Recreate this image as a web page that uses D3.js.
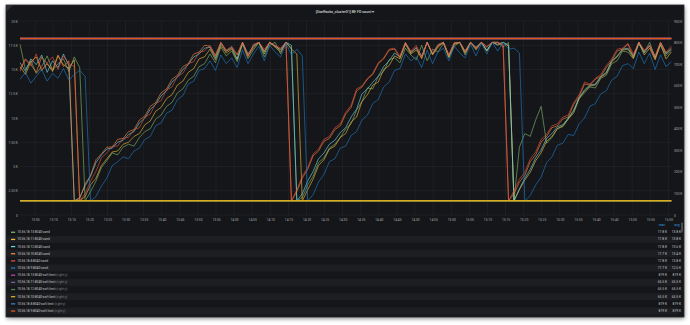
<!DOCTYPE html>
<html lang="en">
<head>
<meta charset="utf-8">
<title>BE FD count</title>
<script src="https://cdn.jsdelivr.net/npm/d3@7"></script>
<style>
html, body { margin: 0; padding: 0; background: #ffffff; }
body { font-family: Roboto, "Noto Sans", sans-serif; }
#vis svg { display: block; }
</style>
</head>
<body>
<div id="vis"></div>
<script>

/* Data */
/* ==== */

// one sample every 1.5 minutes, first one at 13:00:50
var startTime = new Date(2023, 0, 1, 13, 0, 50),
    stepMinutes = 1.5;

var usedNames = ['10.56.18.13:8040-used', '10.56.18.11:8040-used', '10.56.18.12:8040-used',
                 '10.56.18.10:8040-used', '10.56.18.8:8040-used', '10.56.18.9:8040-used'];

// values in thousands of fds (left axis)
var used13 = [17.6, 15.0, 15.9, 14.6, 15.3, 16.4, 14.9, 15.6, 16.1, 14.8, 16.3, 15.2, 1.45,
  2.4, 3.5, 4.9, 5.6, 6.4, 6.2, 7.0, 7.3, 7.1, 8.0, 8.6, 8.9, 9.9, 10.3, 11.2, 11.6, 12.6, 13.0, 13.9, 14.3, 15.3, 15.6, 16.6,
  15.7, 17.3, 16.4, 16.9, 15.8, 17.6, 16.1, 17.0, 17.8, 16.3, 17.5, 17.8, 16.6, 17.8, 17.2, 1.45,
  1.8, 3.1, 4.0, 5.4, 5.9, 6.9, 7.3, 8.0, 8.9, 9.4, 10.8, 11.7, 13.1, 13.0, 14.3, 14.8, 16.0, 16.2,
  15.7, 17.2, 16.5, 16.0, 17.5, 15.9, 17.1, 16.8, 17.7, 16.2, 17.4, 17.8, 16.5, 17.8, 17.0, 17.8, 16.9, 17.8, 17.8, 17.3, 17.8, 1.45,
  7.0, 8.4, 8.1, 9.8, 11.2, 7.4,
  8.0, 8.9, 9.1, 9.9, 10.5, 12.0, 12.6, 13.2, 13.1, 14.1, 14.4, 15.6, 15.9, 16.9, 16.8,
  16.1, 17.6, 16.8, 17.8, 16.2, 17.5, 16.4, 17.0];

var used11 = [15.3, 14.5, 15.8, 16.3, 14.9, 15.6, 14.8, 16.4, 15.5, 15.1, 16.0, 1.45,
  1.9, 3.1, 3.8, 5.1, 5.8, 6.5, 6.6, 7.3, 7.5, 8.1, 8.4, 9.3, 9.7, 10.7, 11.1, 12.0, 12.4, 13.4, 13.8, 14.7, 15.1, 16.1, 16.3, 17.1,
  16.0, 17.5, 16.7, 17.1, 16.0, 17.8, 16.4, 17.2, 17.8, 16.6, 17.8, 17.3, 16.8, 17.8, 17.1, 16.6, 1.45,
  2.6, 3.7, 5.1, 5.7, 6.8, 7.1, 8.0, 8.4, 9.6, 10.1, 11.7, 12.4, 13.4, 13.7, 15.0, 15.4, 16.4,
  16.1, 17.6, 16.6, 17.0, 16.2, 17.8, 16.5, 17.3, 17.8, 16.3, 17.6, 17.8, 16.7, 17.8, 17.2, 17.8, 16.9, 17.8, 17.5, 17.8, 17.4, 1.45,
  2.6, 3.6, 4.4, 5.6, 6.4, 7.6, 8.1, 8.9, 9.2, 9.9, 10.7, 12.0, 12.8, 13.3, 13.4, 14.2, 14.6, 15.8, 16.3, 17.0, 17.1,
  16.2, 17.8, 16.5, 17.2, 16.0, 17.6, 16.1, 16.8];

var used12 = [15.7, 14.8, 16.1, 15.5, 16.5, 14.7, 15.9, 15.2, 16.6, 15.4, 1.45,
  1.8, 3.0, 4.0, 5.4, 6.2, 6.8, 6.9, 7.5, 7.7, 8.3, 8.6, 9.5, 10.0, 10.9, 11.4, 12.3, 12.8, 13.7, 14.2, 15.0, 15.5, 16.3, 16.6, 17.2, 17.3,
  16.2, 17.7, 16.9, 17.3, 16.1, 17.8, 16.6, 17.4, 17.8, 16.8, 17.8, 17.4, 17.0, 17.8, 17.5, 1.45,
  2.2, 3.5, 4.5, 5.8, 6.4, 7.3, 7.7, 8.5, 9.0, 10.1, 10.9, 12.5, 13.0, 13.7, 14.3, 15.3, 15.9, 16.7,
  16.3, 17.7, 16.8, 17.2, 16.4, 17.8, 16.6, 17.5, 17.8, 16.5, 17.7, 17.8, 16.9, 17.8, 17.3, 17.8, 17.0, 17.8, 17.6, 17.8, 17.5, 1.45,
  2.7, 3.8, 4.7, 5.9, 6.7, 7.9, 8.4, 9.1, 9.3, 10.0, 10.8, 12.1, 12.9, 13.4, 13.5, 14.3, 14.7, 15.9, 16.4, 17.1, 17.2,
  16.4, 17.8, 16.7, 17.5, 16.3, 17.8, 16.6, 17.1];

var used10 = [15.0, 16.1, 15.5, 14.7, 16.3, 15.6, 15.0, 16.5, 15.3, 15.9, 1.45,
  1.7, 3.2, 4.1, 5.7, 6.3, 7.0, 7.0, 7.8, 7.9, 8.6, 8.8, 9.8, 10.2, 11.2, 11.6, 12.6, 13.0, 14.0, 14.4, 15.3, 15.6, 16.6, 16.8, 17.5, 17.4,
  16.4, 17.8, 16.9, 17.2, 16.5, 17.8, 16.3, 17.5, 17.8, 16.9, 17.8, 17.4, 17.1, 17.8, 1.45,
  2.4, 3.8, 4.7, 6.1, 6.6, 7.6, 7.9, 8.8, 9.2, 10.4, 11.1, 12.8, 13.2, 14.0, 14.5, 15.6, 16.1, 17.0, 17.1,
  16.2, 17.8, 16.7, 17.3, 16.1, 17.8, 16.6, 17.4, 17.8, 16.4, 17.7, 17.8, 16.8, 17.8, 17.1, 17.8, 17.3, 17.8, 17.8, 17.5, 1.45,
  2.2, 3.4, 4.1, 5.5, 6.2, 7.5, 8.1, 9.0, 9.2, 9.9, 10.1, 11.4, 12.2, 13.5, 13.4, 14.0, 14.3, 15.2, 15.9, 16.9, 17.1, 17.6,
  16.3, 17.8, 16.9, 17.4, 16.1, 17.8, 16.7, 17.2];

var used8 = [14.8, 16.0, 15.4, 16.6, 14.9, 15.7, 16.3, 15.0, 16.4, 15.6, 15.3, 1.45,
  2.2, 3.5, 4.5, 5.9, 6.4, 7.1, 7.1, 7.9, 8.0, 8.8, 9.0, 10.1, 10.4, 11.5, 11.8, 12.9, 13.2, 14.3, 14.6, 15.6, 15.8, 16.8, 16.9, 17.5,
  16.5, 17.8, 17.0, 17.4, 16.6, 17.8, 16.4, 17.6, 17.8, 17.1, 17.8, 17.5, 17.2, 17.8, 1.45,
  2.6, 4.0, 4.9, 6.3, 6.8, 7.8, 8.1, 9.0, 9.4, 10.6, 11.3, 13.0, 13.3, 14.1, 14.6, 15.7, 16.2, 17.1, 17.2,
  16.4, 17.8, 16.9, 17.5, 16.3, 17.8, 16.7, 17.6, 17.8, 16.5, 17.8, 17.8, 16.9, 17.8, 17.2, 17.8, 17.4, 17.8, 17.8, 17.6, 1.45,
  2.5, 3.7, 4.4, 5.8, 6.5, 7.8, 8.3, 9.2, 9.4, 10.1, 10.3, 11.6, 12.4, 13.7, 13.5, 14.1, 14.5, 15.4, 16.1, 17.1, 17.2, 17.7,
  16.6, 17.8, 17.0, 17.5, 16.4, 17.8, 16.8, 17.4];

var used9 = [14.0, 14.7, 13.6, 14.3, 15.0, 13.8, 14.6, 14.1, 15.1, 13.9, 14.5, 14.9, 14.3, 1.45,
  1.9, 3.0, 3.8, 5.1, 5.5, 6.0, 5.8, 6.6, 6.9, 7.8, 8.1, 9.2, 9.5, 10.5, 10.8, 11.9, 12.3, 13.5, 13.8, 14.9, 15.1, 15.9,
  14.9, 16.5, 15.6, 16.2, 15.2, 17.0, 15.6, 16.6, 17.4, 15.9, 17.5, 16.8, 16.3, 17.7, 16.5, 17.1, 16.4, 1.45,
  2.1, 3.4, 4.2, 5.5, 5.8, 6.9, 7.1, 8.2, 8.6, 9.8, 10.3, 11.5, 11.9, 13.2, 13.7, 14.9,
  15.1, 16.6, 15.9, 16.3, 15.2, 17.0, 15.6, 16.8, 17.2, 15.9, 17.4, 16.7, 16.2, 17.6, 16.4, 17.7, 16.6, 17.8, 16.9, 17.8, 17.1, 17.2, 16.7, 1.45,
  2.0, 3.1, 3.9, 5.4, 6.0, 7.2, 7.4, 8.3, 8.2, 9.4, 10.0, 11.2, 11.5, 12.5, 12.8, 13.9, 14.3, 15.4, 15.6,
  15.1, 16.8, 15.6, 16.7, 15.0, 16.5, 15.3, 15.8];

var usedMax = ['17.8 K', '17.8 K', '17.8 K', '17.7 K', '17.8 K', '17.7 K'];
var usedAvg = ['13.8 K', '13.8 K', '13.6 K', '13.4 K', '13.8 K', '12.6 K'];

var softNames = ['10.56.18.13:8040-soft limit', '10.56.18.11:8040-soft limit', '10.56.18.12:8040-soft limit',
                 '10.56.18.10:8040-soft limit', '10.56.18.8:8040-soft limit', '10.56.18.9:8040-soft limit'];
var softValues = [819200, 65536, 65536, 65536, 819200, 819200];   // right axis
var softMax = ['819 K', '65.5 K', '65.5 K', '65.5 K', '819 K', '819 K'];
var softAvg = ['819 K', '65.5 K', '65.5 K', '65.5 K', '819 K', '819 K'];

var leftTicks = [0, 2500, 5000, 7500, 10000, 12500, 15000, 17500, 20000];
var leftTickLabels = ['0', '2.50 K', '5 K', '7.50 K', '10 K', '12.5 K', '15 K', '17.5 K', '20 K'];
var rightTicks = [0, 100000, 200000, 300000, 400000, 500000, 600000, 700000, 800000, 900000];
var rightTickLabels = ['0', '100 K', '200 K', '300 K', '400 K', '500 K', '600 K', '700 K', '800 K', '900 K'];

var palette = ['#7EB26D', '#EAB839', '#6ED0E0', '#EF843C', '#E24D42', '#1F78C1',
               '#BA43A9', '#705DA0', '#508642', '#D9AC1E', '#447EBC', '#E0561C'];


/* Globals and SVG */
/* =============== */

var W = 690, H = 325;
var panel = { x: 6, y: 5, w: 678, h: 312 };
var plot = { left: 20, right: 671.4, top: 21, bottom: 215 };

var svg = d3.select('#vis')
  .append('svg')
    .attr('width', W)
    .attr('height', H);

var endTime = new Date(+startTime + 180 * 60000);

var x = d3.scaleTime().domain([startTime, endTime]).range([plot.left, plot.right]);
var yLeft = d3.scaleLinear().domain([0, 20000]).range([plot.bottom, plot.top]);
var yRight = d3.scaleLinear().domain([0, 900000]).range([plot.bottom, plot.top]);


/* Functions */
/* ========= */

function drawPanel() {

  var defs = svg.append('defs');
  defs.append('filter').attr('id', 'blur')
      .attr('x', '-5%').attr('y', '-10%').attr('width', '110%').attr('height', '125%')
    .append('feGaussianBlur').attr('stdDeviation', 2.2);

  svg.append('rect')
    .attr('x', panel.x + 0.5).attr('y', panel.y + 1.5)
    .attr('width', panel.w).attr('height', panel.h)
    .attr('fill', '#000').attr('opacity', 0.5)
    .attr('filter', 'url(#blur)');

  svg.append('rect')
    .attr('x', panel.x).attr('y', panel.y)
    .attr('width', panel.w).attr('height', panel.h)
    .attr('fill', '#141619')
    .attr('stroke', '#2a2c31')
    .attr('stroke-width', 0.8);

  // info corner
  svg.append('path')
    .attr('d', 'M' + panel.x + ',' + panel.y + 'h7l-7,7z')
    .attr('fill', '#2b2e33');

  svg.append('text')
    .attr('x', 345).attr('y', 12)
    .attr('text-anchor', 'middle')
    .attr('dominant-baseline', 'central')
    .style('font-size', '3.6px')
    .style('font-weight', 500)
    .style('fill', '#d8d9da')
    .text('[StarRocks_cluster01] BE FD count \u25BE');

} // drawPanel()

function drawAxes() {

  var xTicks = x.ticks(d3.timeMinute.every(5));

  // grid
  var grid = svg.append('g').attr('class', 'grid');
  grid.selectAll('.hgrid')
    .data(leftTicks)
    .enter().append('line')
      .attr('x1', plot.left).attr('x2', plot.right)
      .attr('y1', function(d) { return yLeft(d); })
      .attr('y2', function(d) { return yLeft(d); })
      .attr('stroke', '#25272b')
      .attr('stroke-width', 0.6);

  grid.selectAll('.vgrid')
    .data(xTicks)
    .enter().append('line')
      .attr('x1', function(d) { return x(d); })
      .attr('x2', function(d) { return x(d); })
      .attr('y1', plot.top).attr('y2', plot.bottom)
      .attr('stroke', '#25272b')
      .attr('stroke-width', 0.6);

  var xAxis = d3.axisBottom(x)
    .tickValues(xTicks)
    .tickFormat(d3.timeFormat('%H:%M'))
    .tickSize(0).tickPadding(3.6);

  var yAxisL = d3.axisLeft(yLeft)
    .tickValues(leftTicks)
    .tickFormat(function(d, i) { return leftTickLabels[i]; })
    .tickSize(0).tickPadding(1.6);

  var yAxisR = d3.axisRight(yRight)
    .tickValues(rightTicks)
    .tickFormat(function(d, i) { return rightTickLabels[i]; })
    .tickSize(0).tickPadding(2.6);

  var gx = svg.append('g').attr('transform', 'translate(0,' + plot.bottom + ')').call(xAxis);
  var gl = svg.append('g').attr('transform', 'translate(' + (plot.left - 0.5) + ',0)').call(yAxisL);
  var gr = svg.append('g').attr('transform', 'translate(' + plot.right + ',0)').call(yAxisR);

  [gx, gl, gr].forEach(function(g) {
    g.select('.domain').remove();
    g.selectAll('text')
      .style('font-family', 'Roboto, sans-serif')
      .style('font-size', '3.3px')
      .style('fill', '#a4a6aa');
  });

} // drawAxes()

function drawSeries() {

  var usedSeries = [used13, used11, used12, used10, used8, used9];

  var line = d3.line()
    .x(function(d, i) { return x(new Date(+startTime + i * stepMinutes * 60000)); })
    .y(function(d) { return yLeft(d * 1000); });

  svg.append('g').attr('id', 'used')
    .selectAll('path')
    .data(usedSeries)
    .enter().append('path')
      .attr('d', line)
      .attr('fill', 'none')
      .attr('stroke', function(d, i) { return palette[i]; })
      .attr('stroke-width', 0.7)
      .attr('stroke-opacity', 0.92)
      .attr('stroke-linejoin', 'round');

  svg.append('g').attr('id', 'soft')
    .selectAll('line')
    .data(softValues)
    .enter().append('line')
      .attr('x1', x(startTime)).attr('x2', x(endTime))
      .attr('y1', function(d) { return yRight(d); })
      .attr('y2', function(d) { return yRight(d); })
      .attr('stroke', function(d, i) { return palette[i + 6]; })
      .attr('stroke-width', 1.5);

} // drawSeries()

function drawLegend() {

  var rows = [];
  usedNames.forEach(function(n, i) {
    rows.push({ name: n, right: false, max: usedMax[i], avg: usedAvg[i], color: palette[i] });
  });
  softNames.forEach(function(n, i) {
    rows.push({ name: n, right: true, max: softMax[i], avg: softAvg[i], color: palette[i + 6] });
  });

  var y0 = 232.2, rowH = 7.16;
  var g = svg.append('g').attr('id', 'legend');

  g.selectAll('.stripe')
    .data(rows)
    .enter().append('rect')
      .attr('x', panel.x + 1).attr('width', panel.w - 6)
      .attr('y', function(d, i) { return y0 + i * rowH - rowH / 2; })
      .attr('height', rowH)
      .attr('fill', function(d, i) { return i % 2 ? '#1d1e22' : 'none'; });

  var row = g.selectAll('.row')
    .data(rows)
    .enter().append('g')
      .attr('transform', function(d, i) { return 'translate(0,' + (y0 + i * rowH) + ')'; });

  row.append('rect')
    .attr('x', 11).attr('y', -0.6)
    .attr('width', 4.2).attr('height', 1.3)
    .attr('fill', function(d) { return d.color; });

  var label = row.append('text')
    .attr('x', 17.2)
    .attr('dominant-baseline', 'central')
    .style('font-size', '3.2px')
    .style('fill', '#c8c9cb');
  label.append('tspan').text(function(d) { return d.name; });
  label.filter(function(d) { return d.right; })
    .append('tspan').style('fill', '#808287').text(' (right-y)');

  row.append('text')
    .attr('x', 667).attr('text-anchor', 'end')
    .attr('dominant-baseline', 'central')
    .style('font-size', '3.3px').style('fill', '#c8c9cb')
    .text(function(d) { return d.max; });

  row.append('text')
    .attr('x', 681).attr('text-anchor', 'end')
    .attr('dominant-baseline', 'central')
    .style('font-size', '3.3px').style('fill', '#c8c9cb')
    .text(function(d) { return d.avg; });

  // column headers
  [['max', 665], ['avg', 679.5]].forEach(function(h) {
    g.append('text')
      .attr('x', h[1]).attr('y', 225.2)
      .attr('text-anchor', 'end')
      .attr('dominant-baseline', 'central')
      .style('font-size', '3.3px')
      .style('fill', '#33a2e5')
      .text(h[0]);
  });

  // scrollbar thumb
  g.append('rect')
    .attr('x', 681.2).attr('y', 222.5)
    .attr('width', 1.6).attr('height', 10)
    .attr('rx', 0.8)
    .attr('fill', '#55585e');

} // drawLegend()


/* Build */
/* ===== */

drawPanel();
drawAxes();
drawSeries();
drawLegend();

</script>
</body>
</html>
